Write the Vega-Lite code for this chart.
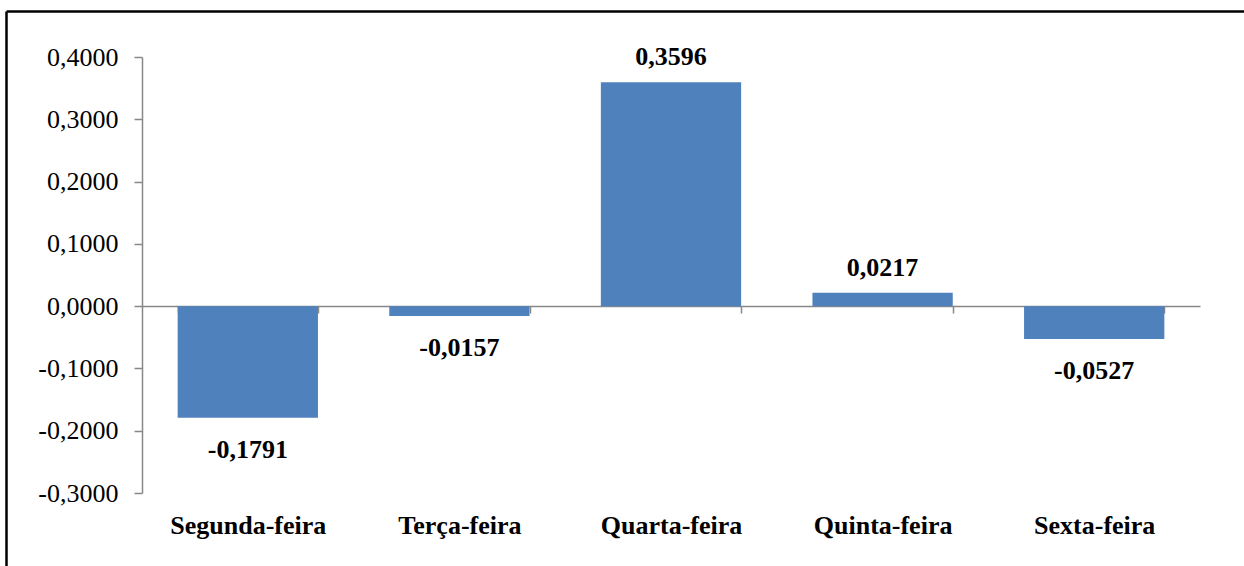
{
  "$schema": "https://vega.github.io/schema/vega-lite/v6.json",
  "autosize": {"type": "none"},
  "padding": {"left": 6, "top": 11, "right": 0, "bottom": 0},
  "width": 1238,
  "height": 555,
  "background": "white",
  "config": {
    "view": {"stroke": null},
    "locale": {"number": {"decimal": ",", "thousands": ".", "grouping": [3], "currency": ["", ""], "minus": "-"}},
    "axis": {"labelFont": "Liberation Serif", "labelColor": "black", "domainColor": "#888888", "tickColor": "#888888", "domainWidth": 1.5, "tickWidth": 1.5, "grid": false, "title": null}
  },
  "data": {"values": [
    {"dia": "Segunda-feira", "valor": -0.1791},
    {"dia": "Terça-feira", "valor": -0.0157},
    {"dia": "Quarta-feira", "valor": 0.3596},
    {"dia": "Quinta-feira", "valor": 0.0217},
    {"dia": "Sexta-feira", "valor": -0.0527}
  ]},
  "resolve": {"scale": {"x": "independent", "y": "independent"}, "axis": {"x": "independent", "y": "independent"}},
  "layer": [
    {
      "encoding": {
        "x": {"field": "dia", "type": "nominal", "sort": null,
          "scale": {"range": [136, 1194], "paddingInner": 0.337, "paddingOuter": 0.1685},
          "axis": {"orient": "bottom", "offset": -260, "labelAngle": 0, "labelFont": "Liberation Serif", "labelFontSize": 26, "labelFontWeight": "bold", "labelBaseline": "alphabetic", "labelPadding": 220, "tickSize": 7, "tickBand": "extent", "labelOverlap": false}},
        "y": {"field": "valor", "type": "quantitative",
          "scale": {"domain": [-0.3, 0.4], "range": [482, 46], "nice": false, "zero": false},
          "axis": {"orient": "left", "offset": -136, "values": [-0.3, -0.2, -0.1, 0, 0.1, 0.2, 0.3, 0.4], "format": ".4f", "labelFont": "Liberation Serif", "labelFontSize": 26, "tickSize": 8, "labelPadding": 16}}
      },
      "layer": [
        {"mark": {"type": "bar", "color": "#4F81BD"}, "encoding": {"y2": {"datum": 0}}},
        {"transform": [{"filter": "datum.valor >= 0"}],
         "mark": {"type": "text", "font": "Liberation Serif", "fontSize": 26, "fontWeight": "bold", "color": "black", "align": "center", "baseline": "alphabetic", "dy": -17},
         "encoding": {"text": {"field": "valor", "type": "quantitative", "format": ".4f"}}},
        {"transform": [{"filter": "datum.valor < 0"}],
         "mark": {"type": "text", "font": "Liberation Serif", "fontSize": 26, "fontWeight": "bold", "color": "black", "align": "center", "baseline": "alphabetic", "dy": 40},
         "encoding": {"text": {"field": "valor", "type": "quantitative", "format": ".4f"}}}
      ]
    },
    {
      "mark": {"type": "point", "opacity": 0},
      "encoding": {
        "x": {"datum": 0, "type": "quantitative", "scale": {"domain": [0, 1], "range": [0, 1260]},
          "axis": {"orient": "top", "domainColor": "black", "domainWidth": 2.5, "ticks": false, "labels": false, "grid": false}},
        "y": {"datum": 0, "type": "quantitative", "scale": {"domain": [0, 1], "range": [580, 0]},
          "axis": {"orient": "left", "domainColor": "black", "domainWidth": 2.5, "ticks": false, "labels": false, "grid": false}}
      }
    }
  ]
}
